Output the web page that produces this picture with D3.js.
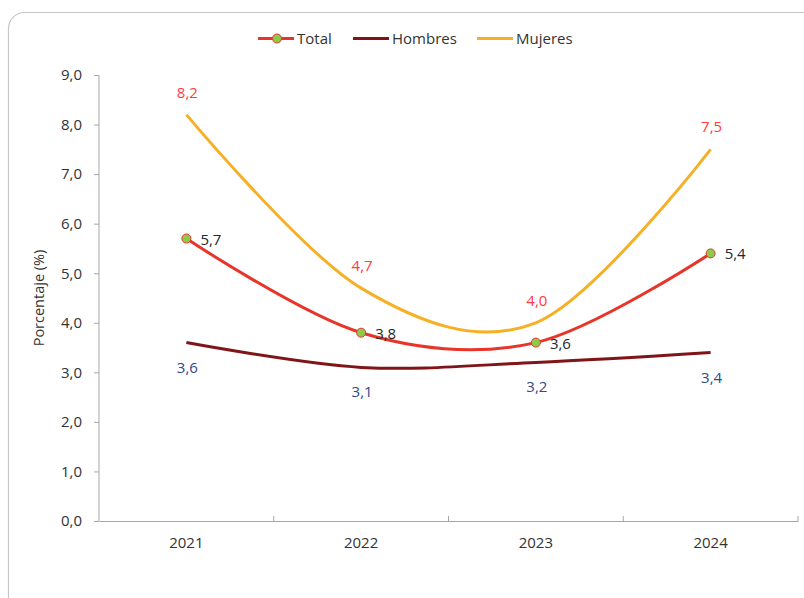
<!DOCTYPE html>
<html><head><meta charset="utf-8">
<script src="https://cdn.jsdelivr.net/npm/d3@7"></script>
<style>
html,body{margin:0;padding:0;background:#fff;}
svg{display:block;font-family:"Open Sans",sans-serif;}
</style></head>
<body>
<svg id="c" width="804" height="598"></svg>
<script>
const categories = ["2021","2022","2023","2024"];
const total = [5.7, 3.8, 3.6, 5.4];
const hombres = [3.6, 3.1, 3.2, 3.4];
const mujeres = [8.2, 4.7, 4.0, 7.5];
const yTicks = [0,1,2,3,4,5,6,7,8,9];
const seriesNames = ["Total","Hombres","Mujeres"];

const svg = d3.select("#c");
const fmt = v => v.toFixed(1).replace(".", ",");
const FS = "15px";

// frame
svg.append("rect").attr("x",8.5).attr("y",12.5).attr("width",830).attr("height",620)
  .attr("rx",16).attr("fill","#fff").attr("stroke","#c6c6c6").attr("stroke-width",1.2);

const x = d3.scaleBand().domain(categories).range([99,798]);
const y = d3.scaleLinear().domain([0,9]).range([521,75]);
const cx = d => x(d) + x.bandwidth()/2;

// y axis
const ya = svg.append("g").attr("transform","translate(99,0)")
  .call(d3.axisLeft(y).tickValues(yTicks).tickFormat(fmt).tickSize(5).tickPadding(12));
ya.select(".domain").attr("stroke","#a6a6a6").attr("d","M-5,75.5H0V521");
ya.selectAll(".tick line").attr("stroke","#a6a6a6");
ya.selectAll(".tick text").attr("fill","#333").style("font-size",FS).style("font-family","'Open Sans',sans-serif");

// x axis
const xa = svg.append("g").attr("transform","translate(0,521)")
  .call(d3.axisBottom(x).tickSize(0).tickPadding(16));
xa.select(".domain").attr("stroke","#a6a6a6");
xa.selectAll(".tick text").attr("fill","#333").style("font-size",FS).style("font-family","'Open Sans',sans-serif");
const bounds = categories.map(c => x(c)).concat([x.range()[1]]);
xa.selectAll("line.bt").data(bounds.slice(1)).enter().append("line").attr("class","bt")
  .attr("x1",d=>d).attr("x2",d=>d).attr("y1",0).attr("y2",-5).attr("stroke","#a6a6a6");

// y title
svg.append("text").attr("transform","translate(44,298) rotate(-90)").attr("text-anchor","middle")
  .attr("fill","#333").style("font-size","14.5px").text("Porcentaje (%)");

const line = d3.line().x((d,i)=>cx(categories[i])).y(d=>y(d)).curve(d3.curveCardinal.tension(0));

const colTotal = "#e8352a", colH = "#7f1518", colM = "#f6b026";

svg.append("path").datum(hombres).attr("d",line).attr("fill","none").attr("stroke",colH).attr("stroke-width",3);
svg.append("path").datum(mujeres).attr("d",line).attr("fill","none").attr("stroke",colM).attr("stroke-width",3);
svg.append("path").datum(total).attr("d",line).attr("fill","none").attr("stroke",colTotal).attr("stroke-width",3);
svg.selectAll("circle.tm").data(total).enter().append("circle").attr("class","tm")
  .attr("cx",(d,i)=>cx(categories[i])).attr("cy",d=>y(d)).attr("r",4.5)
  .attr("fill","#8fc94a").attr("stroke",colTotal).attr("stroke-width",1);

// labels
svg.selectAll("text.lm").data(mujeres).enter().append("text").attr("class","lm")
  .attr("x",(d,i)=>cx(categories[i])+1).attr("y",d=>y(d)-17).attr("text-anchor","middle")
  .attr("fill","#ff3b3b").style("font-size",FS).text(fmt);
svg.selectAll("text.lt").data(total).enter().append("text").attr("class","lt")
  .attr("x",(d,i)=>cx(categories[i])+14).attr("y",d=>y(d)+6)
  .attr("fill","#262626").style("font-size",FS).text(fmt);
svg.selectAll("text.lh").data(hombres).enter().append("text").attr("class","lh")
  .attr("x",(d,i)=>cx(categories[i])+1).attr("y",d=>y(d)+30).attr("text-anchor","middle")
  .attr("fill","#2e4a8a").style("font-size",FS).text(fmt);

// legend
const legend = [
  {name:seriesNames[0], col:colTotal, x:258, marker:true},
  {name:seriesNames[1], col:colH, x:353, marker:false},
  {name:seriesNames[2], col:colM, x:477, marker:false}
];
const lg = svg.append("g");
legend.forEach(l => {
  lg.append("line").attr("x1",l.x).attr("x2",l.x+36).attr("y1",38.5).attr("y2",38.5).attr("stroke",l.col).attr("stroke-width",3);
  if (l.marker) lg.append("circle").attr("cx",l.x+19).attr("cy",38.5).attr("r",4.5).attr("fill","#8fc94a").attr("stroke",l.col);
  lg.append("text").attr("x",l.x+39).attr("y",44).attr("fill","#333").style("font-size",FS).text(l.name);
});
</script>
</body></html>
